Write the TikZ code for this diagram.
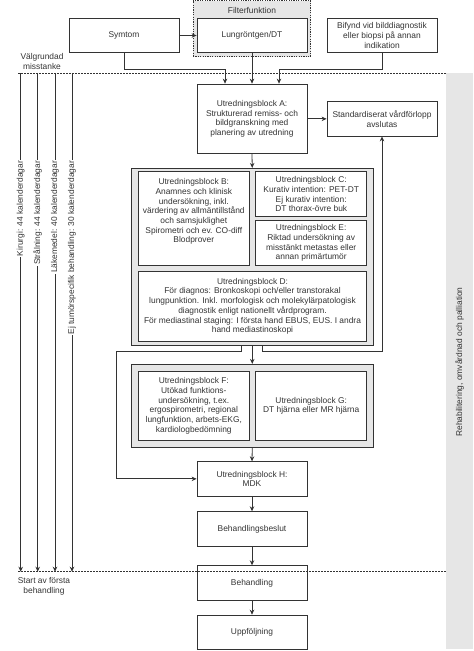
\documentclass[tikz,border=0pt]{standalone}
\usepackage{fontspec}
\setmainfont{Liberation Sans}
\usetikzlibrary{arrows.meta}
\definecolor{lnc}{HTML}{333333}
\definecolor{txc}{HTML}{333333}
\definecolor{gbg}{HTML}{E6E6E6}
\begin{document}
\begin{tikzpicture}[x=1pt,y=1pt,
  every node/.style={font=\fontsize{8.4}{9.7}\selectfont, text=txc},
  box/.style={draw=lnc, line width=0.8pt, fill=white, inner sep=0pt, align=center},
  cont/.style={draw=lnc, line width=0.8pt, fill=gbg, inner sep=0pt},
  arr/.style={draw=lnc, line width=0.8pt, -{Stealth[length=5pt,width=4.5pt]}},
  plain/.style={draw=lnc, line width=0.8pt},
  dotl/.style={draw=lnc, line width=0.7pt, dash pattern=on 1.5pt off 1.5pt},
  tl/.style={fill=white, inner sep=0.8pt, rotate=90, anchor=east}
]
\useasboundingbox (0,0) rectangle (474,-651);

% right gray column
\node[fill=gbg, inner sep=0pt, minimum width=27pt, minimum height=575.7pt] (rcol) at (459.5,-361.15) {};
\node[rotate=90] (rehab) at (459.5,-362) {Rehabilitering, omvårdnad och palliation};

% filter container
\node[cont, dash pattern=on 1.2pt off 1.2pt, minimum width=117.5pt, minimum height=56.2pt] (filt) at (251.75,-28.6) {};
\node (filtlbl) at (252,-10.5) {Filterfunktion};

% top row
\node[box, minimum width=110pt, minimum height=34.4pt] (sym) at (124,-35.5) {Symtom};
\node[box, minimum width=110pt, minimum height=34.4pt] (lung) at (252,-35.5) {Lungröntgen/DT};
\node[box, minimum width=110pt, minimum height=34.4pt] (bif) at (382,-35.5) {Bifynd vid bilddiagnostik\\eller biopsi på annan\\indikation};

% A and std
\node[box, minimum width=110pt, minimum height=69.3pt] (A) at (252,-118.7) {Utredningsblock A:\\Strukturerad remiss- och\\bildgranskning med\\planering av utredning};
\node[box, minimum width=110pt, minimum height=34.3pt] (std) at (382,-118.85) {Standardiserat vårdförlopp\\avslutas};

% container 1
\node[cont, minimum width=242.5pt, minimum height=176.7pt] (c1) at (252.25,-256.65) {};
\node[box, minimum width=111pt, minimum height=94pt] (B) at (193.8,-218.7) {Utredningsblock B:\\Anamnes och klinisk\\undersökning, inkl.\\värdering av allmäntillstånd\\och samsjuklighet\\Spirometri och ev. CO-diff\\Blodprover\\[6.3pt]\mbox{}};
\node[box, minimum width=111pt, minimum height=45pt] (C) at (311.2,-194.2) {Utredningsblock C:\\Kurativ intention: PET-DT\\Ej kurativ intention:\\DT thorax-övre buk};
\node[box, minimum width=111pt, minimum height=45pt] (E) at (311.2,-243.2) {Utredningsblock E:\\Riktad undersökning av\\misstänkt metastas eller\\annan primärtumör};
\node[box, minimum width=228.4pt, minimum height=69.3pt] (D) at (252.5,-306.35) {Utredningsblock D:\\För diagnos: Bronkoskopi och/eller transtorakal\\lungpunktion. Inkl. morfologisk och molekylärpatologisk\\diagnostik enligt nationellt vårdprogram.\\För mediastinal staging: I första hand EBUS, EUS. I andra\\hand mediastinoskopi};

% container 2
\node[cont, minimum width=242.5pt, minimum height=83pt] (c2) at (252.25,-405.8) {};
\node[box, minimum width=111pt, minimum height=69.7pt] (F) at (193.8,-405.85) {Utredningsblock F:\\Utökad funktions-\\undersökning, t.ex.\\ergospirometri, regional\\lungfunktion, arbets-EKG,\\kardiologbedömning};
\node[box, minimum width=111pt, minimum height=69.7pt] (G) at (311.2,-405.85) {Utredningsblock G:\\DT hjärna eller MR hjärna};

% lower chain
\node[box, minimum width=110pt, minimum height=34.3pt] (H) at (252,-478.85) {Utredningsblock H:\\MDK};
\node[box, minimum width=110pt, minimum height=34.3pt] (bes) at (252,-528.85) {Behandlingsbeslut};
\node[box, minimum width=110pt, minimum height=34.3pt] (beh) at (252,-582.85) {Behandling};
\node[box, minimum width=110pt, minimum height=34.3pt] (upp) at (252,-632.25) {Uppföljning};

% connectors top
\draw[arr] (sym.east) -- (lung.west);
\draw[arr] (sym.south) -- ++(0,-16) -| ([xshift=-27pt]A.north);
\draw[arr] (lung.south) -- (A.north);
\draw[arr] (bif.south) -- ++(0,-16) -| ([xshift=27pt]A.north);
\draw[arr] (A.east |- std.west) -- (std.west);
\draw[arr] (A.south) -- (c1.north);

% connectors from container 1
\coordinate (hl) at (116.7,-478.85);
\draw[arr] ([xshift=-10.5pt]c1.south) -- ++(0,-5.7) -| (hl) -- (H.west);
\draw[arr] ([xshift=10pt]c1.south) -- ++(0,-5.7) -| (std.south);
\draw[arr] (c1.south) -- (c2.north);
\draw[arr] (c2.south) -- (H.north);
\draw[arr] (H.south) -- (bes.north);
\draw[arr] (bes.south) -- (beh.north);
\draw[arr] (beh.south) -- (upp.north);

% timeline
\coordinate (d1l) at (18.3,-73.3);
\coordinate (d1r) at (446,-73.3);
\coordinate (d2l) at (18.3,-571.7);
\coordinate (d2r) at (446,-571.7);
\foreach \n/\x in {1/20.7,2/37.7,3/55,4/72}{
  \coordinate (v\n t) at (\x,-73.3);
  \coordinate (v\n b) at (\x,-571.7);
  \draw[arr] (v\n t) -- (v\n b);
}
\draw[dotl] (d1l) -- (d1r);
\draw[dotl] (d2l) -- (d2r);

\node[tl] (l1) at (20.7,-160) {Kirurgi: 44 kalenderdagar};
\node[tl] (l2) at (37.7,-160) {Strålning: 44 kalenderdagar};
\node[tl] (l3) at (55,-160) {Läkemedel: 40 kalenderdagar};
\node[tl] (l4) at (72,-160) {Ej tumörspecifik behandling: 30 kalenderdagar};

\node[align=center] (valg) at (42,-61.3) {Välgrundad\\misstanke};
\node[align=center] (start) at (44,-586.3) {Start av första\\behandling};
\end{tikzpicture}
\end{document}
